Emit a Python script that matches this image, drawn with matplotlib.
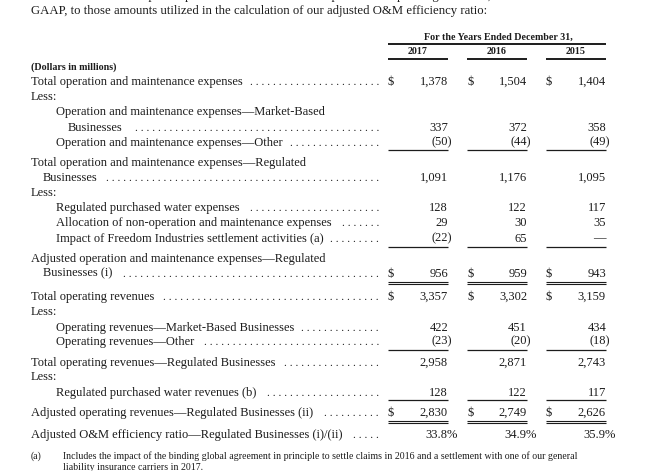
import matplotlib
matplotlib.use("Agg")
import matplotlib.pyplot as plt

# ---------------- data ----------------
years = ["2017", "2016", "2015"]
om_total = [1378, 1504, 1404]
om_market = [337, 372, 358]
om_other = [-50, -44, -49]
om_regulated = [1091, 1176, 1095]
purchased_water_exp = [128, 122, 117]
alloc_non_om = [29, 30, 35]
freedom_impact = [-22, 65, None]
adj_om_regulated = [956, 959, 943]
rev_total = [3357, 3302, 3159]
rev_market = [422, 451, 434]
rev_other = [-23, -20, -18]
rev_regulated = [2958, 2871, 2743]
purchased_water_rev = [128, 122, 117]
adj_rev_regulated = [2830, 2749, 2626]
efficiency_ratio = [33.8, 34.9, 35.9]

# ---------------- layout ----------------
W, H = 647, 471
fig = plt.figure(figsize=(W / 100, H / 100), dpi=100)
ax = fig.add_axes([0, 0, 1, 1])
ax.set_xlim(0, W)
ax.set_ylim(H, 0)
ax.axis("off")

FONT = "Liberation Serif"
INK = "#1c1c1c"
BODY = 9.0
HEAD = 7.2
NOTE = 7.1
INTRO = 9.2

col_left = [388, 467, 546]
col_right = [448, 527, 606]
dots_end = 379

def txt(x, y, s, size=BODY, bold=False, ha="left", **kw):
    return ax.text(x, y + 3.6 * size / 9.0, s, fontsize=size, family=FONT,
                   fontweight="bold" if bold else "normal", color=INK,
                   ha=ha, va="baseline", **kw)

def hline(y, x0, x1, lw=0.9):
    ax.plot([x0, x1], [y, y], color=INK, lw=lw, solid_capstyle="butt")

def fmt(v, pct=False):
    if v is None:
        return "\u2014", 0
    if pct:
        return f"{v:.1f}%", 10.0
    if v < 0:
        return f"({abs(v):,})", 4.0
    return f"{v:,}", 0

def values(y, vals, dollar=False, pct=False):
    for i, v in enumerate(vals):
        s, hang = fmt(v, pct)
        txt(col_right[i] + hang, y, s, ha="right")
        if dollar:
            txt(col_left[i], y, "$")

def single_rule(y):
    for a, b in zip(col_left, col_right):
        hline(y, a, b, lw=0.9)

def double_rule(y):
    for a, b in zip(col_left, col_right):
        hline(y, a, b, lw=0.8)
        hline(y + 2.2, a, b, lw=0.8)

# intro text (top line is cut by the image edge, as in the source)
txt(31, -4.5, "reconciliation that compares operation and maintenance expenses and operating revenues, each as determined in accordance with", size=INTRO)
txt(31, 10, "GAAP, to those amounts utilized in the calculation of our adjusted O&M efficiency ratio:", size=INTRO)

# header
txt((col_left[0] + col_right[2]) / 2 + 1, 37, "For the Years Ended December 31,", size=HEAD, bold=True, ha="center")
hline(43.5, col_left[0], col_right[2], lw=1.4)
for i, yr in enumerate(years):
    txt((col_left[i] + col_right[i]) / 2, 51, yr, size=HEAD, bold=True, ha="center")
    hline(58.5, col_left[i], col_right[i], lw=1.4)
txt(31, 66.5, "(Dollars in millions)", size=HEAD, bold=True)

leader_labels = []

def label(x, y, s, leader=False):
    t = txt(x, y, s)
    if leader:
        leader_labels.append((t, y))
    return t

# rows
label(31, 81, "Total operation and maintenance expenses", True)
values(81, om_total, dollar=True)
label(31, 96, "Less:")
label(56, 111, "Operation and maintenance expenses\u2014Market-Based")
label(68, 127, "Businesses", True)
values(127, om_market)
label(56, 142, "Operation and maintenance expenses\u2014Other", True)
values(142, om_other)
single_rule(150)
label(31, 162, "Total operation and maintenance expenses\u2014Regulated")
label(43, 177, "Businesses", True)
values(177, om_regulated)
label(31, 192, "Less:")
label(56, 207, "Regulated purchased water expenses", True)
values(207, purchased_water_exp)
label(56, 222, "Allocation of non-operation and maintenance expenses", True)
values(222, alloc_non_om)
label(56, 238, "Impact of Freedom Industries settlement activities (a)", True)
values(238, freedom_impact)
single_rule(246.5)
label(31, 258, "Adjusted operation and maintenance expenses\u2014Regulated")
label(43, 273, "Businesses (i)", True)
values(273, adj_om_regulated, dollar=True)
double_rule(281.5)
label(31, 296, "Total operating revenues", True)
values(296, rev_total, dollar=True)
label(31, 311, "Less:")
label(56, 327, "Operating revenues\u2014Market-Based Businesses", True)
values(327, rev_market)
label(56, 341, "Operating revenues\u2014Other", True)
values(341, rev_other)
single_rule(349.5)
label(31, 362, "Total operating revenues\u2014Regulated Businesses", True)
values(362, rev_regulated)
label(31, 376, "Less:")
label(56, 392, "Regulated purchased water revenues (b)", True)
values(392, purchased_water_rev)
single_rule(399.5)
label(31, 412, "Adjusted operating revenues\u2014Regulated Businesses (ii)", True)
values(412, adj_rev_regulated, dollar=True)
double_rule(420.5)
label(31, 434, "Adjusted O&M efficiency ratio\u2014Regulated Businesses (i)/(ii)", True)
values(434, efficiency_ratio, pct=True)

# footnote
txt(31, 456, "(a)", size=NOTE)
txt(63, 456, "Includes the impact of the binding global agreement in principle to settle claims in 2016 and a settlement with one of our general", size=NOTE)
txt(63, 467.5, "liability insurance carriers in 2017.", size=NOTE)

# dot leaders, measured from the rendered labels
fig.canvas.draw()
renderer = fig.canvas.get_renderer()
inv = ax.transData.inverted()
DOT_SIZE = 8.2
probe = ax.text(0, 0, ". " * 40, fontsize=DOT_SIZE, family=FONT)
bb = probe.get_window_extent(renderer)
(px0, _), (px1, _) = inv.transform([[bb.x0, 0], [bb.x1, 0]])
pitch = abs(px1 - px0) / 40.0
probe.remove()
for t, y in leader_labels:
    b = t.get_window_extent(renderer)
    xe = inv.transform([[b.x1, 0]])[0][0]
    n = int((dots_end - (xe + 5)) / pitch + 0.3)
    if n > 0:
        ax.text(dots_end, y + 3.6, " ".join(["."] * n), fontsize=DOT_SIZE,
                family=FONT, color=INK, ha="right", va="baseline")

fig.savefig("out.png", dpi=100, facecolor="white")
